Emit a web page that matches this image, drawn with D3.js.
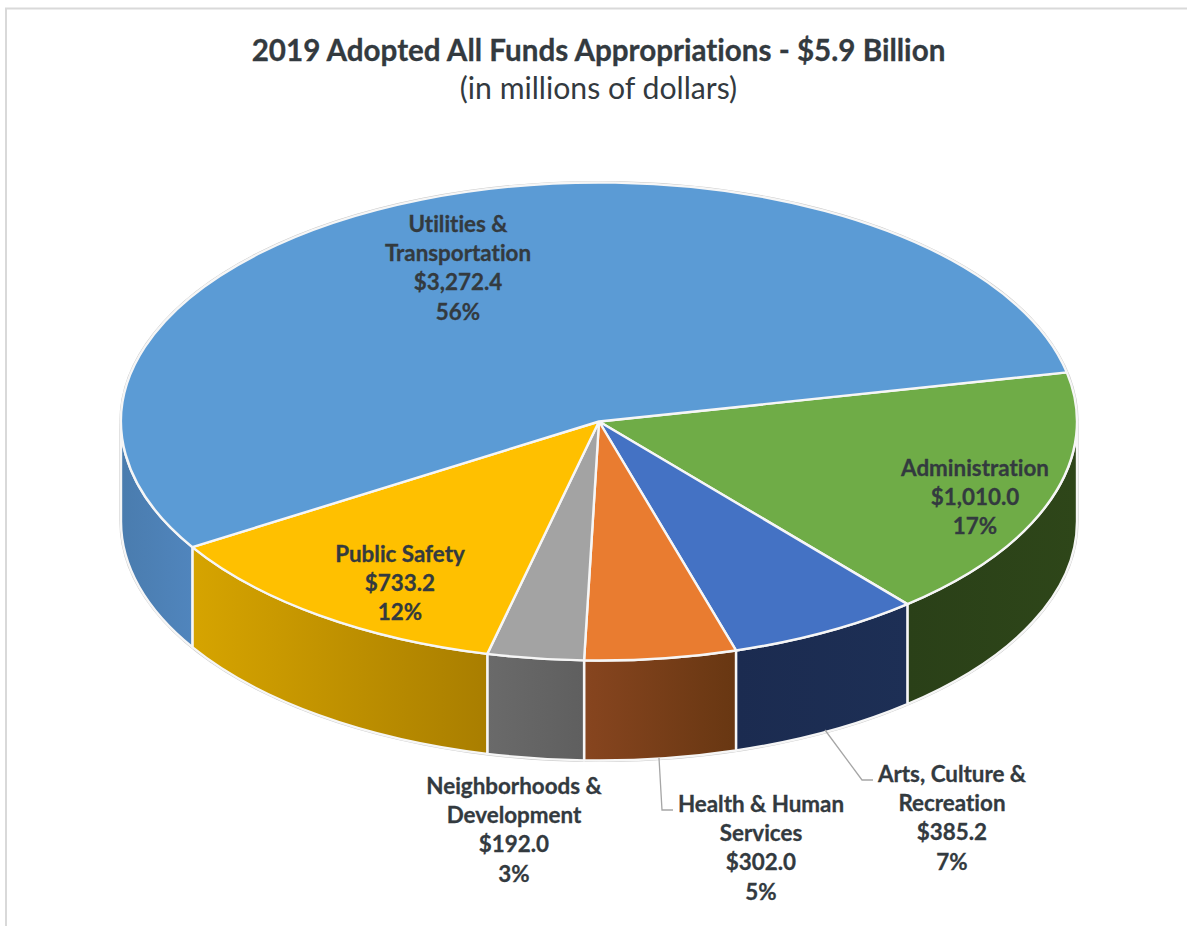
<!DOCTYPE html>
<html>
<head>
<meta charset="utf-8">
<script src="https://cdn.jsdelivr.net/npm/d3@7"></script>
<style>
html,body{margin:0;padding:0;background:#fff;overflow:hidden}
svg{display:block}
text{font-family:Lato,"Open Sans",sans-serif;fill:#333a3f;font-variant-ligatures:none}
.heavy{stroke:#333a3f;stroke-width:0.3px}
</style>
</head>
<body>
<div id="chart"></div>
<script>
// ---- data ----
const categories = ["Administration","Arts, Culture & Recreation","Health & Human Services","Neighborhoods & Development","Public Safety","Utilities & Transportation"];
const values = [1010.0,385.2,302.0,192.0,733.2,3272.4];
const labelNames = [["Administration"],["Arts, Culture &","Recreation"],["Health & Human","Services"],["Neighborhoods &","Development"],["Public Safety"],["Utilities &","Transportation"]];
const titleText = "2019 Adopted All Funds Appropriations - $5.9 Billion";
const subtitleText = "(in millions of dollars)";

// ---- style & layout ----
const W=1187,H=926,cx=599,cy=421.5,rx=478,ry=239,depth=100;
const topColors=["#6fac47","#4472c4","#e97c30","#a3a3a3","#ffc000","#5b9bd5"];
const wallColors=[["#2a4018","#2e4619"],["#1b2b50","#1d2f55"],["#87451f","#683712"],["#6a6a6a","#5f5f5f"],["#d6a400","#a97e00"],["#4a7cae","#5085bd"]];
const labelPos=[[975,468],[952,774],[761,804],[514,786],[400,554],[458,224]];
const lineStep=29.4;
const leaders={1:[[825,730],[862,780],[873,780]],2:[[659,758],[662,810],[673,810]]};

const svg=d3.select("#chart").append("svg").attr("width",W).attr("height",H);
svg.append("rect").attr("width",W).attr("height",H).attr("fill","#fff");
const frame=d3.path();frame.moveTo(6,H);frame.lineTo(6,8.5);frame.lineTo(W,8.5);
svg.append("path").attr("d",frame.toString()).attr("fill","none").attr("stroke","#d9d9d9").attr("stroke-width",2);

svg.append("text").attr("class","heavy").attr("x",598.5).attr("y",60.5).attr("text-anchor","middle")
  .attr("font-size",29.6).attr("font-weight",700).text(titleText);
svg.append("text").attr("x",598.5).attr("y",99).attr("text-anchor","middle")
  .attr("font-size",30.2).text(subtitleText);

const start=(90-11.86)*Math.PI/180;
const pie=d3.pie().sort(null).startAngle(start).endAngle(start+2*Math.PI);
const arcs=pie(values);
const total=d3.sum(values);
const X=a=>cx+rx*Math.sin(a), Y=a=>cy-ry*Math.cos(a);

const defs=svg.append("defs");
wallColors.forEach((c,i)=>{
  const g=defs.append("linearGradient").attr("id","w"+i).attr("x1",0).attr("x2",1).attr("y1",0).attr("y2",0);
  g.append("stop").attr("offset",0).attr("stop-color",c[0]);
  g.append("stop").attr("offset",1).attr("stop-color",c[1]);
});

// front walls (only the part of each slice between 3 and 9 o'clock)
const frontA=Math.PI/2, frontB=3*Math.PI/2;
function wallRange(d){
  for(const k of [0,2*Math.PI]){
    const a=Math.max(d.startAngle-k,frontA), b=Math.min(d.endAngle-k,frontB);
    if(b>a) return [a,b];
  }
  return null;
}
function wallPath(a,b){
  return `M${X(a)},${Y(a)}A${rx},${ry} 0 0 1 ${X(b)},${Y(b)}L${X(b)},${Y(b)+depth}A${rx},${ry} 0 0 0 ${X(a)},${Y(a)+depth}Z`;
}
// grey silhouette rim
svg.append("path")
  .attr("d",`M${cx-rx-1},${cy}L${cx-rx-1},${cy+depth}A${rx+1},${ry+1} 0 0 0 ${cx+rx+1},${cy+depth}L${cx+rx+1},${cy}A${rx+1},${ry+1} 0 0 0 ${cx-rx-1},${cy}Z`)
  .attr("fill","none").attr("stroke","#c9c9c9").attr("stroke-width",1.2);

svg.append("g").selectAll("path").data(arcs.filter(wallRange)).join("path")
  .attr("d",d=>{const r=wallRange(d);return wallPath(r[0],r[1]);})
  .attr("fill",d=>`url(#w${d.index})`)
  .attr("stroke","#f6f6f6").attr("stroke-width",2.4).attr("stroke-linejoin","round");

// top surface
const arcGen=d3.arc().innerRadius(0).outerRadius(rx);
svg.append("g").attr("transform",`translate(${cx},${cy}) scale(1,${ry/rx})`)
  .selectAll("path").data(arcs).join("path")
  .attr("d",arcGen)
  .attr("fill",d=>topColors[d.index])
  .attr("stroke","#f6f6f6").attr("stroke-width",2.4).attr("stroke-linejoin","round")
  .attr("vector-effect","non-scaling-stroke");

// leader lines
const lineGen=d3.line();
Object.values(leaders).forEach(p=>{
  svg.append("path").attr("d",lineGen(p)).attr("fill","none").attr("stroke","#a6a6a6").attr("stroke-width",1.3);
});

// data labels
arcs.forEach((d,i)=>{
  const lines=[...labelNames[i],"$"+d3.format(",.1f")(values[i]),d3.format(".0%")(values[i]/total)];
  const g=svg.append("text").attr("class","heavy").attr("text-anchor","middle").attr("font-size",22.4).attr("font-weight",700);
  lines.forEach((t,j)=>g.append("tspan").attr("x",labelPos[i][0]).attr("y",labelPos[i][1]+7.5+j*lineStep).text(t));
});
</script>
</body>
</html>
